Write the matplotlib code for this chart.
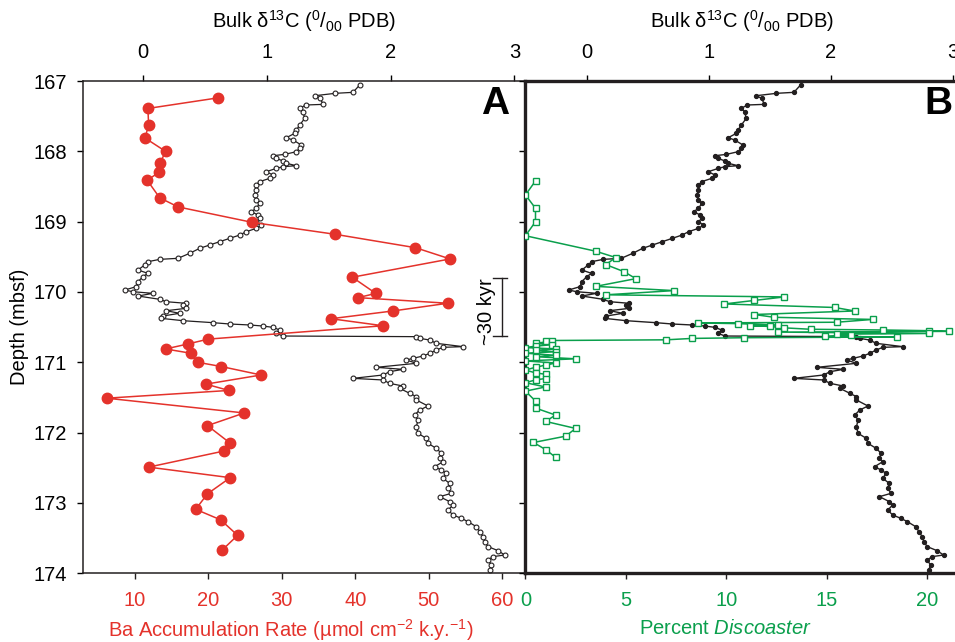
import matplotlib.pyplot as plt

plt.rcParams['font.family'] = ['Liberation Sans', 'DejaVu Sans']
plt.rcParams['mathtext.fontset'] = 'custom'
plt.rcParams['mathtext.rm'] = 'Liberation Sans'
plt.rcParams['mathtext.it'] = 'Liberation Sans:italic'

# bulk carbon isotope record (depth in mbsf, d13C in permil PDB)
d13c_depth = [167.057, 167.161, 167.175, 167.209, 167.246, 167.332, 167.341, 167.389, 167.436, 167.531,
              167.626, 167.697, 167.744, 167.806, 167.839, 167.910, 167.957, 168.005, 168.043, 168.062,
              168.100, 168.137, 168.170, 168.204, 168.218, 168.242, 168.289, 168.337, 168.384, 168.431,
              168.479, 168.550, 168.621, 168.692, 168.740, 168.811, 168.858, 168.905, 168.953, 169.000,
              169.048, 169.095, 169.142, 169.190, 169.237, 169.285, 169.332, 169.379, 169.450,
              169.521, 169.536, 169.569, 169.616, 169.687, 169.735, 169.782, 169.853, 169.924, 169.972,
              169.996, 170.019, 170.057, 170.104, 170.138, 170.161, 170.185, 170.232, 170.266, 170.303,
              170.341, 170.375, 170.408, 170.436, 170.455, 170.469, 170.484, 170.503, 170.540, 170.588,
              170.626, 170.635, 170.659, 170.683, 170.730, 170.777, 170.787, 170.825, 170.872, 170.910,
              170.943, 170.967, 171.014, 171.071, 171.100, 171.133, 171.180, 171.228, 171.251, 171.299,
              171.337, 171.370, 171.441, 171.488,
              171.536, 171.621, 171.678, 171.749, 171.820, 171.915, 172.010, 172.081, 172.152, 172.223,
              172.294, 172.365, 172.413, 172.484, 172.531, 172.578, 172.650, 172.721, 172.792, 172.863,
              172.910, 172.981, 173.029, 173.100, 173.171, 173.218, 173.266, 173.337, 173.408, 173.479,
              173.550, 173.621, 173.678, 173.740, 173.763, 173.811, 173.882, 173.953]
d13c = [1.750, 1.696, 1.553, 1.387, 1.432, 1.454, 1.314, 1.266, 1.292, 1.306,
        1.266, 1.239, 1.225, 1.158, 1.212, 1.279, 1.266, 1.239, 1.144, 1.050,
        1.077, 1.131, 1.158, 1.239, 1.131, 1.077, 0.996, 1.050, 1.023, 0.942,
        0.915, 0.915, 0.902, 0.915, 0.942, 0.915, 0.875, 0.929, 0.942, 0.915,
        0.956, 0.915, 0.835, 0.781, 0.700, 0.619, 0.538, 0.458, 0.377,
        0.283, 0.135, 0.040, 0.013, -0.040, 0.040, 0.0, -0.040, -0.054, -0.148,
        -0.081, 0.081, -0.040, 0.135, 0.188, 0.350, 0.323, 0.350, 0.188, 0.296,
        0.162, 0.148, 0.323, 0.565, 0.700, 0.862, 0.969, 1.050, 1.104, 1.077,
        1.131, 2.208, 2.235, 2.316, 2.369, 2.585, 2.423, 2.369, 2.316, 2.262,
        2.181, 2.127, 2.208, 1.885, 2.100, 1.992, 1.939, 1.696, 1.939, 1.992,
        2.100, 2.073, 2.154, 2.208,
        2.208, 2.302, 2.235, 2.194, 2.221, 2.208, 2.221, 2.289, 2.302, 2.369,
        2.410, 2.396, 2.423, 2.356, 2.410, 2.450, 2.423, 2.477, 2.464, 2.491,
        2.396, 2.477, 2.504, 2.464, 2.504, 2.571, 2.625, 2.693, 2.719, 2.746,
        2.760, 2.787, 2.868, 2.921, 2.827, 2.787, 2.814, 2.800]

# Ba accumulation rate (umol cm-2 k.y.-1)
ba_depth = [167.24, 167.39, 167.63, 167.81, 168.00, 168.16, 168.30, 168.41, 168.66, 168.79,
            169.01, 169.18, 169.37, 169.53, 169.79, 170.02, 170.08, 170.16, 170.27, 170.38,
            170.48, 170.67, 170.74, 170.81, 170.87, 171.00, 171.06, 171.18, 171.31, 171.40,
            171.51, 171.72, 171.90, 172.15, 172.26, 172.49, 172.64, 172.87, 173.09, 173.24,
            173.46, 173.67]
ba_rate = [21.3, 11.8, 11.9, 11.4, 14.2, 13.5, 13.3, 11.7, 13.4, 15.9,
           26.0, 37.3, 48.2, 52.9, 39.6, 42.8, 40.4, 52.6, 45.1, 36.7,
           43.8, 20.0, 17.2, 14.2, 17.6, 18.6, 21.8, 27.2, 19.7, 22.8,
           6.2, 24.9, 19.9, 23.0, 22.2, 11.9, 23.0, 19.9, 18.3, 21.7,
           24.0, 21.9]

# percent Discoaster
disc_depth = [168.42, 168.62, 168.81, 169.00, 169.20, 169.42, 169.51, 169.61, 169.71, 169.81,
              169.92, 169.98, 170.04, 170.07, 170.12, 170.17, 170.22, 170.27, 170.32, 170.36,
              170.39, 170.43, 170.44, 170.45, 170.47, 170.48, 170.49, 170.51, 170.53, 170.54,
              170.55, 170.56, 170.57, 170.59, 170.60, 170.61, 170.63, 170.64, 170.65, 170.66,
              170.68, 170.69, 170.70, 170.73, 170.75, 170.77, 170.79, 170.81, 170.83, 170.85,
              170.87, 170.90, 170.92, 170.95, 170.98, 171.01, 171.04, 171.07, 171.11, 171.15,
              171.17, 171.23, 171.25, 171.29, 171.35, 171.41, 171.55, 171.65, 171.75, 171.84,
              171.94, 172.05, 172.14, 172.24, 172.35]
disc_pct = [0.5, 0.0, 0.5, 0.5, 0.0, 3.5, 4.5, 4.0, 4.9, 5.5,
            3.5, 7.4, 4.0, 12.9, 11.4, 9.9, 15.4, 16.4, 11.4, 12.4,
            17.3, 15.5, 8.6, 10.6, 12.6, 11.2, 12.2, 12.9, 14.2, 17.8,
            20.1, 21.1, 12.6, 20.1, 15.5, 16.2, 14.9, 18.5, 10.9, 8.3,
            7.0, 1.0, 1.3, 0.5, 1.3, 0.5, 0.0, 1.5, 0.5, 1.5,
            0.0, 1.5, 0.5, 2.5, 0.0, 1.5, 1.0, 0.5, 0.0, 0.5,
            1.0, 1.0, 0.5, 0.0, 1.0, 0.0, 0.5, 0.5, 1.5, 1.0,
            2.5, 2.0, 0.4, 1.0, 1.5]

depth_ticks = [167, 168, 169, 170, 171, 172, 173, 174]
d13c_ticks = [0, 1, 2, 3]
ba_ticks = [10, 20, 30, 40, 50, 60]
disc_ticks = [0, 5, 10, 15, 20]

red = "#e4322b"
green = "#0a9f4c"
black = "#231f20"
fs = 14.5
top_label = r"Bulk δ$^{13}$C ($^{0}/_{00}$ PDB)"

fig = plt.figure(figsize=(9.55, 6.42), dpi=100)

# ---- panel A ----
axA = fig.add_axes([0.0869, 0.1070, 0.4628, 0.7668])
axA.plot(d13c, d13c_depth, color=black, lw=0.9, marker="o", ms=3.5,
         mfc="white", mec=black, mew=0.8)
axA.set_xlim(-0.4845, 3.085)
axA.set_ylim(174, 167)
axA.set_yticks(depth_ticks)
axA.set_xticks(d13c_ticks)
axA.set_ylabel("Depth (mbsf)", fontsize=fs, labelpad=3)
for s in ["left", "top", "bottom"]:
    axA.spines[s].set_linewidth(1.1)
    axA.spines[s].set_color(black)
axA.spines["right"].set_visible(False)

# 30 kyr scale bar
axA.plot([2.897, 2.897], [169.80, 170.626], color=black, lw=1)
axA.plot([2.826, 2.94], [169.80, 169.80], color=black, lw=1)
axA.plot([2.826, 2.94], [170.626, 170.626], color=black, lw=1)
fig.text(486 / 955, 1 - 312 / 642, "~30 kyr", rotation=90, fontsize=fs,
         ha="center", va="center")

axA2 = axA.twiny()
axA2.plot(ba_rate, ba_depth, color=red, lw=1.1, marker="o", ms=7.5)
axA2.set_xlim(2.97, 63.09)
axA2.set_xticks(ba_ticks)
axA2.xaxis.tick_bottom()
axA2.tick_params(axis="x", direction="out", length=4.5, width=1, labelsize=fs,
                 pad=8, labelcolor=red, color=black)
for s in axA2.spines.values():
    s.set_visible(False)

# twiny() moves the host ticks to the bottom, so put them back on top
axA.xaxis.tick_top()
axA.xaxis.set_label_position("top")
axA.set_xlabel(top_label, fontsize=fs, labelpad=11)
axA.tick_params(axis="x", direction="out", length=4.5, width=1, labelsize=fs, pad=9)
axA.tick_params(axis="y", direction="out", length=4.5, width=1, labelsize=fs, pad=7)

fig.text(0.5 * (83 + 525) / 955 - 0.014, 1 - 630 / 642,
         "Ba Accumulation Rate (µmol cm$^{-2}$ k.y.$^{-1}$)",
         color=red, fontsize=fs, ha="center", va="center")
fig.text(495 / 955, 1 - 104 / 642, "A", fontsize=28, fontweight="bold",
         ha="center", va="center")

# ---- panel B ----
axB = fig.add_axes([0.5497, 0.1070, 0.4555, 0.7668])
axB.plot(d13c, d13c_depth, color=black, lw=1, marker="o", ms=2.8,
         mfc=black, mec=black)
axB.set_xlim(-0.505, 3.055)
axB.set_ylim(174, 167)
axB.set_yticks(depth_ticks)
axB.set_yticklabels([])
axB.set_xticks(d13c_ticks)
for s in ["left", "top", "bottom"]:
    axB.spines[s].set_linewidth(2.4)
    axB.spines[s].set_color(black)
axB.spines["right"].set_visible(False)

axB2 = axB.twiny()
axB2.plot(disc_pct, disc_depth, color=green, lw=1.1, marker="s", ms=4.8,
          mfc="white", mec=green, mew=1)
axB2.set_xlim(-0.025, 21.644)
axB2.set_xticks(disc_ticks)
axB2.xaxis.tick_bottom()
axB2.tick_params(axis="x", direction="out", length=4.5, width=1, labelsize=fs,
                 pad=8, labelcolor=green, color=black)
for s in axB2.spines.values():
    s.set_visible(False)

axB.xaxis.tick_top()
axB.xaxis.set_label_position("top")
axB.set_xlabel(top_label, fontsize=fs, labelpad=11)
axB.tick_params(axis="x", direction="out", length=4.5, width=1, labelsize=fs, pad=9)
axB.tick_params(axis="y", direction="out", length=4.5, width=1)

fig.text(725 / 955, 1 - 629 / 642, r"Percent $\it{Discoaster}$", color=green,
         fontsize=fs, ha="center", va="center")
fig.text(938 / 955, 1 - 104 / 642, "B", fontsize=28, fontweight="bold",
         ha="center", va="center")

fig.savefig("out.png", dpi=100)
